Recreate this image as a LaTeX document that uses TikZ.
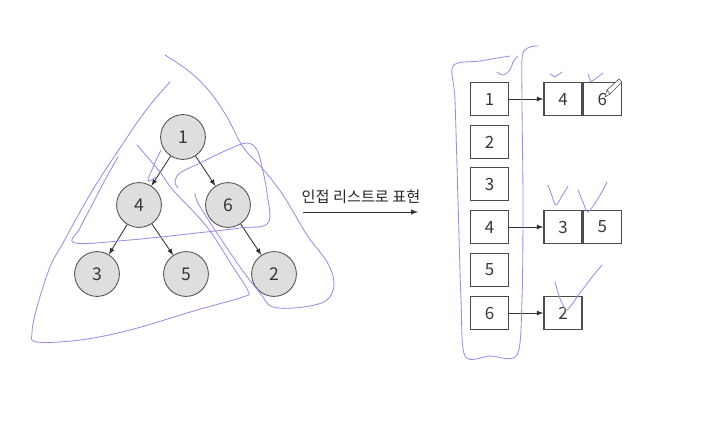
\documentclass[tikz,border=0pt]{standalone}
\usepackage{fontspec}
\setmainfont{Noto Sans CJK KR}
\usetikzlibrary{shapes,arrows,positioning,calc}
\definecolor{pen}{RGB}{160,138,228}
\definecolor{ink}{RGB}{55,55,55}

\begin{document}
\begin{tikzpicture}[x=0.025cm, y=-0.025cm]
  \tikzstyle{vertex}=[circle, draw=black!70, fill=black!13, line width=0.6pt, minimum size=1.12cm, inner sep=0pt, text=ink, font=\fontsize{12.5}{14}\selectfont]
  \tikzstyle{cell}=[rectangle, draw=black!70, line width=0.9pt, minimum width=0.95cm, minimum height=0.83cm, inner sep=0pt, text=ink, font=\fontsize{12}{14}\selectfont]
  \tikzstyle{link}=[-latex, draw=black!80, line width=0.6pt]
  \tikzstyle{scribble}=[draw=pen, line width=0.6pt, line cap=round, line join=round]

  \useasboundingbox (0,0) rectangle (718,422);

  % tree
  \node[vertex] (v1) at (183,137) {1};
  \node[vertex] (v4) at (139,205) {4};
  \node[vertex] (v6) at (228,205) {6};
  \node[vertex] (v3) at (97,274) {3};
  \node[vertex] (v5) at (186,274) {5};
  \node[vertex] (v2) at (274,274) {2};

  \draw[link] (v1) -- (v4);
  \draw[link] (v1) -- (v6);
  \draw[link] (v4) -- (v3);
  \draw[link] (v4) -- (v5);
  \draw[link] (v6) -- (v2);

  % arrow
  \coordinate (from) at (303,212);
  \coordinate (to) at (418,212);
  \draw[link, line width=0.7pt] (from) -- (to);
  \node[text=black!85, font=\fontsize{10.8}{12}\selectfont] (caption) at (361,197) {인접 리스트로 표현};

  % adjacency list
  \node[cell] (h1) at (489.5,99) {1};
  \node[cell] (h2) at (489.5,142) {2};
  \node[cell] (h3) at (489.5,184) {3};
  \node[cell] (h4) at (489.5,227) {4};
  \node[cell] (h5) at (489.5,270) {5};
  \node[cell] (h6) at (489.5,313) {6};

  \node[cell] (a14) at (563,99) {4};
  \node[cell, right=0pt of a14] (a16) {6};
  \node[cell] (a43) at (563,227) {3};
  \node[cell, right=0pt of a43] (a45) {5};
  \node[cell] (a62) at (563,313) {2};

  \draw[link] (h1) -- (a14);
  \draw[link] (h4) -- (a43);
  \draw[link] (h6) -- (a62);

  % pencil
  \draw[black!70, line width=0.4pt, fill=white] (605,97) -- (607,90) -- (619,79) -- (622,82) -- (610,94) -- cycle;
  \draw[black!70, line width=0.4pt] (607,90) -- (610,94);

  % hand-drawn marks
  \draw[scribble] plot[smooth, tension=0.6] coordinates {(137,145) (160,172) (173,190) (207,227) (233,267) (248,291) (243,297) (197,310) (130,330) (80,340) (37,342) (32,333) (37,307) (50,267) (63,243) (80,212) (97,183) (130,133) (150,105) (170,82)};
  \draw[scribble] plot[smooth, tension=0.6] coordinates {(118,157) (105,180) (92,205) (80,228) (75,243) (130,240) (197,233) (240,228) (268,223) (267,193) (262,167) (257,150) (247,143) (227,150) (200,163) (180,173) (175,182) (178,188)};
  \draw[scribble] plot[smooth, tension=0.6] coordinates {(165,55) (190,72) (210,92) (227,117) (243,147) (262,168) (283,195) (307,235) (327,262) (334,283) (327,300) (303,307) (273,307) (260,293) (240,267) (213,227) (198,203) (195,193)};
  \draw[scribble] plot[smooth, tension=0.6] coordinates {(161,150) (154,165) (148,181) (156,177)};
  \draw[scribble] plot[smooth, tension=0.5] coordinates {(538,46) (523,53) (522,100) (523,200) (522,300) (517,355) (490,356) (465,356) (461,300) (458,200) (455,100) (453,66) (480,61) (510,56)};
  \draw[scribble] plot[smooth, tension=0.6] coordinates {(497,72) (503,75) (510,70) (513,62) (518,56)};
  \draw[scribble] (550,74) -- (555,77) -- (562,72);
  \draw[scribble] (588,74) -- (591,82) -- (603,73);
  \draw[scribble] plot[smooth, tension=0.5] coordinates {(548,185) (552,196) (556,205) (562,196) (568,186)};
  \draw[scribble] plot[smooth, tension=0.5] coordinates {(578,190) (583,202) (588,212) (597,200) (603,190) (607,182)};
  \draw[scribble] plot[smooth, tension=0.5] coordinates {(555,282) (559,296) (562,303) (567,310) (580,293) (592,277) (602,265)};
\end{tikzpicture}
\end{document}
